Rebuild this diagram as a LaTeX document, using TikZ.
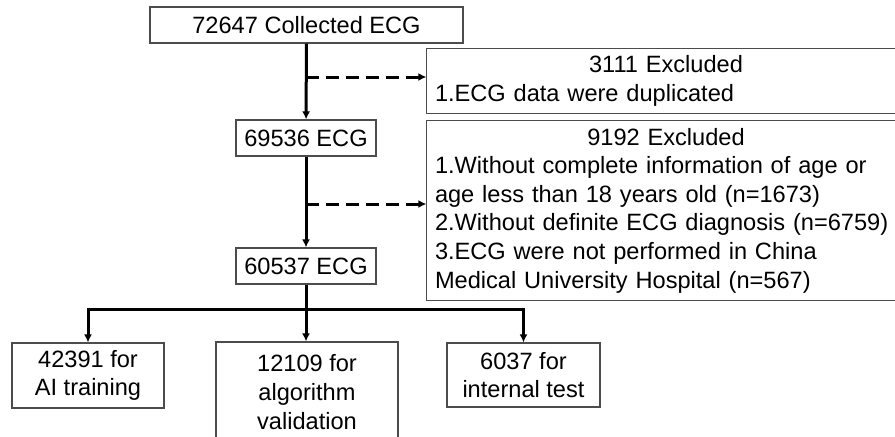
\documentclass[tikz,border=0pt]{standalone}
\usepackage{fontspec}
\setmainfont{Liberation Sans}
\usetikzlibrary{arrows.meta, positioning}
\tikzset{
	box/.style={rectangle, draw=black!70, line width=0.6pt, text centered, font=\fontsize{11.8}{14.3}\selectfont},
	exbox/.style={box, draw=none, text width=240pt, inner xsep=4pt, align=left},
	openbox/.style={draw=black!70, line width=0.6pt},
	arrow/.style={line width=1.5pt, -{Latex[length=4pt,width=4pt]}},
	dasharrow/.style={arrow, dash pattern=on 6.5pt off 3.5pt}
}
\begin{document}
\begin{tikzpicture}[x=0.5pt, y=-0.5pt]
			\useasboundingbox (0,0) rectangle (895,436);
			% Nodes
			\node (ecg0) [box, minimum width=156.5pt, minimum height=18pt] at (306.5,25) {72647 Collected ECG};
			\node (ecg1) [box, minimum width=70pt, minimum height=18pt] at (306,138) {69536 ECG};
			\node (ecg2) [box, minimum width=70pt, minimum height=18pt] at (306,266) {60537 ECG};
			\node (exc1) [exbox, minimum height=32pt] at (675,81) {{\centering 3111 Excluded\hspace*{9pt}\par}1.ECG data were duplicated};
			\node (exc2) [exbox, minimum height=89.5pt] at (675,210.5) {{\centering 9192 Excluded\hspace*{9pt}\par}1.Without complete information of age or\\age less than 18 years old (n=1673)\\2.Without definite ECG diagnosis (n=6759)\\3.ECG were not performed in China\\Medical University Hospital (n=567)};
			\node (train) [box, minimum width=76pt, minimum height=32.5pt, align=center] at (88,375.5) {42391 for\\AI training};
			\node (valid) [box, minimum width=91pt, minimum height=50pt, align=center] at (307,392) {12109 for\\algorithm\\validation};
			\node (test) [box, minimum width=76.5pt, minimum height=32pt, align=center] at (523.5,375) {6037 for\\internal test};
			\coordinate (d1) at (306,77);
			\coordinate (d2) at (306,204);
			\coordinate (split) at (306,309);
			
			% Frames of the excluded boxes (they run off the right edge)
			\foreach \b in {exc1, exc2}
				\draw [openbox] (\b.north east) -- (\b.north west) -- (\b.south west) -- (\b.south east);
			
			% Arrows
			\draw [arrow] (ecg0) -- (ecg1);
			\draw [arrow] (ecg1) -- (ecg2);
			\draw [dasharrow] (d1) -- (d1 -| exc1.west);
			\draw [dasharrow] (d2) -- (d2 -| exc2.west);
			\draw [line width=1.5pt] (ecg2) -- (split);
			\draw [arrow] (split) -| (train);
			\draw [arrow] (split) -- (split |- valid.north);
			\draw [arrow] (split) -| (test);
		\end{tikzpicture}
\end{document}
